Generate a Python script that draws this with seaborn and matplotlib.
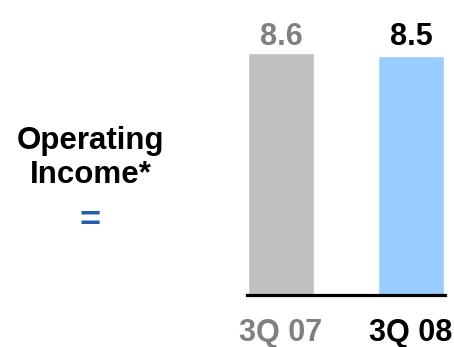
import matplotlib
matplotlib.use("Agg")
import matplotlib.pyplot as plt
import seaborn as sns
import pandas as pd

# Quarterly operating income
quarters = ["3Q 07", "3Q 08"]
income = [8.6, 8.5]
bar_colors = ["#C0C0C0", "#99CCFF"]
label_colors = ["#808080", "#000000"]

sns.set_theme(style="white")
plt.rcParams["font.family"] = ["Liberation Sans", "DejaVu Sans"]

W, H = 454, 347
fig = plt.figure(figsize=(W / 100, H / 100), dpi=100)

# Axes spanning the bar area; bottom edge is the baseline
left_px, right_px, base_px = 247, 445, 295
ax = fig.add_axes([left_px / W, 1 - base_px / H, (right_px - left_px) / W, base_px / H])

df = pd.DataFrame({"quarter": quarters, "income": income})
sns.barplot(data=df, x="quarter", y="income", hue="quarter", palette=bar_colors,
            width=0.508, legend=False, ax=ax, saturation=1)

ax.set_xlim(-0.2615, 1.2615)
ax.set_ylim(0, max(income) * base_px / (base_px - 53))
ax.set_xlabel("")
ax.set_ylabel("")
ax.set_yticks([])
for side in ["left", "right", "top"]:
    ax.spines[side].set_visible(False)
ax.spines["bottom"].set_color("black")
ax.spines["bottom"].set_linewidth(2.3)
ax.tick_params(axis="x", length=0, pad=16.5)
for lbl, c in zip(ax.get_xticklabels(), label_colors):
    lbl.set_color(c)
    lbl.set_fontsize(22)
    lbl.set_fontweight("bold")

# Value labels above the bars
for i, (v, c) in enumerate(zip(income, label_colors)):
    ax.annotate(f"{v:.1f}", xy=(i, max(income)), xytext=(0, 1), textcoords="offset points",
                ha="center", va="bottom", fontsize=22, fontweight="bold", color=c)

fig.text(91 / W, 1 - 158 / H, "Operating\nIncome*", ha="center", va="center",
         fontsize=22.5, fontweight="bold", color="black", linespacing=1.15)
fig.text(90 / W, 1 - 221 / H, "=", ha="center", va="center",
         fontsize=26, fontweight="bold", color="#1F5FAD")

fig.savefig("out.png", dpi=100)
